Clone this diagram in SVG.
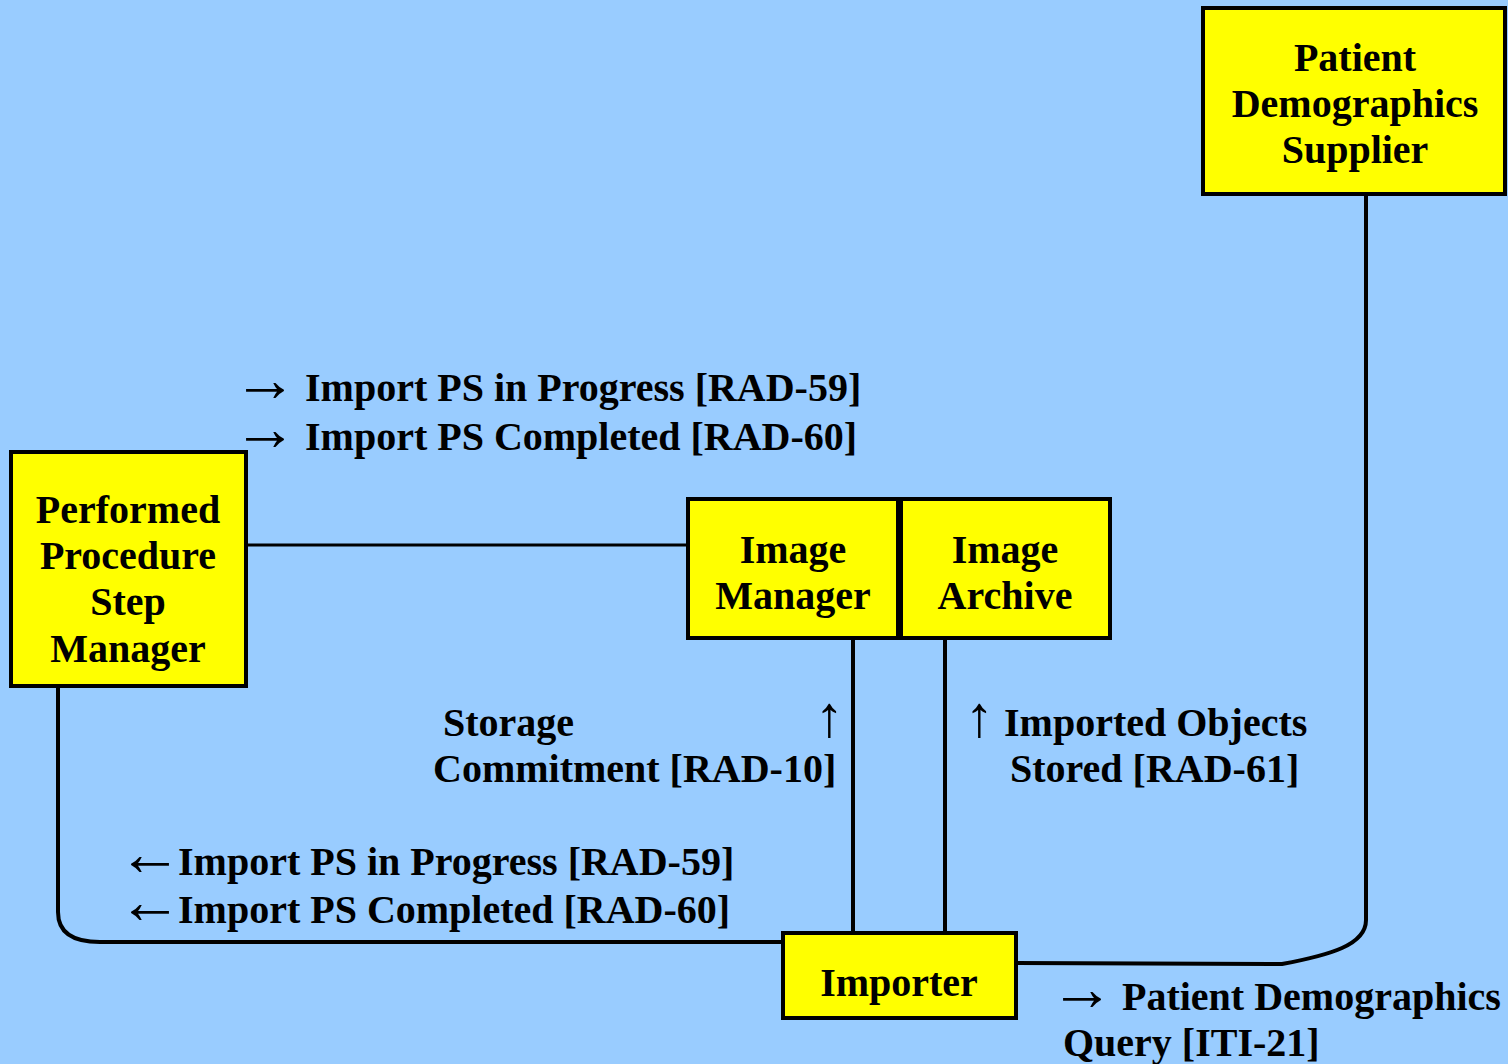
<svg xmlns="http://www.w3.org/2000/svg" width="1508" height="1064" viewBox="0 0 1508 1064">
  <style>
    .box { fill: #ffff00; stroke: #000; stroke-width: 4; }
    .lbl { font-family: "Liberation Serif", "Times New Roman", serif; font-weight: bold; font-size: 40px; fill: #000; }
    .mid { text-anchor: middle; }
    .arr { font-weight: normal; font-size: 64px; }
    .up { font-weight: normal; font-size: 58px; }
    .wire { fill: none; stroke: #000; stroke-width: 4; }
  </style>
  <rect width="1508" height="1064" fill="#99ccff"/>

  <g id="connectors">
    <line class="wire" x1="246" y1="545" x2="688" y2="545" style="stroke-width:3"/>
    <path class="wire" d="M58 686 L58 912 Q58 942 100 942 L783 942"/>
    <line class="wire" x1="853" y1="638" x2="853" y2="933"/>
    <line class="wire" x1="945" y1="638" x2="945" y2="933"/>
    <path class="wire" d="M1016 963 L1282 964 C1330 955 1366 945 1366 920 L1366 194"/>
  </g>

  <g id="patient-demographics-supplier">
    <rect class="box" x="1203" y="8" width="302" height="186"/>
    <text class="lbl mid" x="1355" y="71">Patient</text>
    <text class="lbl mid" x="1355" y="117">Demographics</text>
    <text class="lbl mid" x="1355" y="163">Supplier</text>
  </g>

  <g id="pps-manager">
    <rect class="box" x="11" y="452" width="235" height="234"/>
    <text class="lbl mid" x="128" y="523">Performed</text>
    <text class="lbl mid" x="128" y="569">Procedure</text>
    <text class="lbl mid" x="128" y="615">Step</text>
    <text class="lbl mid" x="128" y="662">Manager</text>
  </g>

  <g id="image-manager">
    <rect class="box" x="688" y="499" width="210" height="139"/>
    <text class="lbl mid" x="793" y="563">Image</text>
    <text class="lbl mid" x="793" y="609">Manager</text>
  </g>

  <g id="image-archive">
    <rect class="box" x="901" y="499" width="209" height="139"/>
    <text class="lbl mid" x="1005" y="563">Image</text>
    <text class="lbl mid" x="1005" y="609">Archive</text>
  </g>

  <g id="importer">
    <rect class="box" x="783" y="933" width="233" height="85"/>
    <text class="lbl mid" x="899" y="996">Importer</text>
  </g>

  <g id="labels">
    <text class="lbl" y="401"><tspan class="arr" x="233" y="401">→</tspan><tspan x="305" y="401">Import PS in Progress [RAD-59]</tspan></text>
    <text class="lbl" y="450"><tspan class="arr" x="233" y="450">→</tspan><tspan x="305" y="450">Import PS Completed [RAD-60]</tspan></text>

    <text class="lbl" y="736"><tspan x="443">Storage</tspan><tspan class="up" x="815">↑</tspan></text>
    <text class="lbl" x="433" y="782">Commitment [RAD-10]</text>

    <text class="lbl" y="736"><tspan class="up" x="965">↑</tspan><tspan x="1004">Imported Objects</tspan></text>
    <text class="lbl" x="1010" y="782">Stored [RAD-61]</text>

    <text class="lbl" y="875"><tspan class="arr" x="118" y="875">←</tspan><tspan x="178" y="875">Import PS in Progress [RAD-59]</tspan></text>
    <text class="lbl" y="923"><tspan class="arr" x="118" y="923">←</tspan><tspan x="178" y="923">Import PS Completed [RAD-60]</tspan></text>

    <text class="lbl" y="1010"><tspan class="arr" x="1050" y="1010">→</tspan><tspan x="1122" y="1010">Patient Demographics</tspan></text>
    <text class="lbl" x="1063" y="1056">Query [ITI-21]</text>
  </g>
</svg>
